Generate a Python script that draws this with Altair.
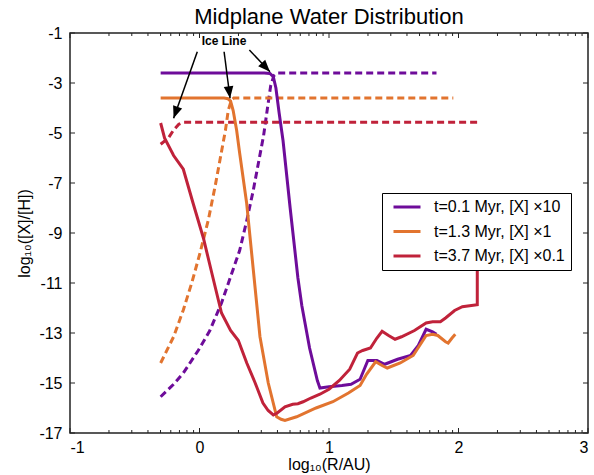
import math
import altair as alt
import pandas as pd

# ---------------- data ----------------
series_names = ["t=0.1 Myr, [X] \u00d710", "t=1.3 Myr, [X] \u00d71", "t=3.7 Myr, [X] \u00d70.1"]
series_colors = ["#6e0c9a", "#e2742f", "#c0223a"]

# t = 0.1 Myr, ice (solid)
t01_x = [-0.3, 0.5, 0.544, 0.57, 0.59, 0.615, 0.645, 0.7, 0.76, 0.79, 0.85, 0.91, 0.93, 1.0, 1.1, 1.17,
         1.24, 1.3, 1.37, 1.43, 1.53, 1.63, 1.69, 1.75, 1.8, 1.83]
t01_y = [-2.6, -2.6, -2.62, -2.75, -3.2, -4.2, -5.3, -8.0, -10.8, -11.9, -13.6, -14.9, -15.2, -15.15, -15.1, -15.05,
         -14.85, -14.1, -14.1, -14.25, -14.05, -13.9, -13.5, -12.85, -12.95, -13.05]
# t = 0.1 Myr, vapour (dashed)
t01d_x = [-0.3, -0.2, -0.125, -0.01, 0.08, 0.17, 0.25, 0.31, 0.365, 0.415, 0.455, 0.495, 0.525, 0.55, 0.575, 0.6, 1.83]
t01d_y = [-15.55, -15.05, -14.6, -13.7, -12.9, -11.8, -10.6, -9.7, -8.5, -7.3, -6.2, -5.1, -4.0, -3.1, -2.7, -2.6, -2.6]

# t = 1.3 Myr, ice (solid)
t13_x = [-0.3, 0.19, 0.22, 0.24, 0.26, 0.287, 0.31, 0.364, 0.416, 0.467, 0.531, 0.596, 0.63, 0.66, 0.75, 0.9, 1.03,
         1.15, 1.24, 1.29, 1.36, 1.41, 1.45, 1.55, 1.65, 1.7, 1.75, 1.8, 1.84, 1.9, 1.92, 1.95, 1.975]
t13_y = [-3.6, -3.6, -3.63, -3.72, -4.1, -4.9, -5.8, -7.8, -10.5, -13.15, -15.0, -16.35, -16.45, -16.5, -16.35, -16.0, -15.75,
         -15.4, -15.1, -14.65, -14.15, -14.3, -14.4, -14.2, -13.9, -13.5, -13.1, -13.05, -13.1, -13.35, -13.4, -13.2, -13.05]
# t = 1.3 Myr, vapour (dashed)
t13d_x = [-0.3, -0.2, -0.125, -0.06, 0.004, 0.068, 0.12, 0.158, 0.2, 0.222, 0.245, 0.265, 1.96]
t13d_y = [-14.2, -13.15, -12.08, -11.0, -9.8, -8.48, -7.15, -6.08, -4.9, -4.1, -3.7, -3.6, -3.6]

# t = 3.7 Myr, ice (solid)
t37_x = [-0.3, -0.27, -0.2, -0.125, -0.05, 0.03, 0.095, 0.17, 0.24, 0.3, 0.365, 0.43, 0.49, 0.53, 0.57, 0.6, 0.66,
         0.72, 0.76, 0.8, 0.86, 0.93, 1.0, 1.08, 1.16, 1.22, 1.26, 1.32, 1.37, 1.41, 1.46, 1.51, 1.56, 1.66, 1.75,
         1.8, 1.86, 1.9, 1.97, 2.03, 2.1, 2.145, 2.145]
t37_y = [-4.6, -5.2, -5.9, -6.45, -7.8, -9.2, -10.6, -12.2, -12.9, -13.3, -14.2, -15.0, -15.8, -16.1, -16.28, -16.2, -15.95,
         -15.85, -15.83, -15.75, -15.6, -15.45, -15.25, -14.9, -14.45, -13.8, -13.7, -13.6, -13.2, -12.93, -13.1, -13.25, -13.15, -12.9, -12.6,
         -12.55, -12.55, -12.4, -12.1, -11.95, -11.9, -11.87, -9.0]
# t = 3.7 Myr, vapour (dashed)
t37d_x = [-0.3, -0.24, -0.2, -0.16, -0.125, 2.15]
t37d_y = [-5.45, -5.2, -4.88, -4.65, -4.57, -4.57]

# "Ice Line" annotation: text position and arrows (start -> tip)
note_text = "Ice Line"
note_x, note_y = 0.189, -1.32
arrow_x0 = [-0.017, 0.19, 0.385]
arrow_y0 = [-1.75, -1.75, -1.68]
arrow_x1 = [-0.2, 0.236, 0.544]
arrow_y1 = [-4.41, -3.61, -2.55]

x_ticks = [-1, 0, 1, 2, 3]
y_ticks = [-1, -3, -5, -7, -9, -11, -13, -15, -17]

# ---------------- layout ----------------
W, H = 518, 400
X_DOM, Y_DOM = [-1, 3], [-17, -1]
PX_X = W / (X_DOM[1] - X_DOM[0])
PX_Y = H / (Y_DOM[1] - Y_DOM[0])


def frame(xs, ys, name):
    return pd.DataFrame({"x": xs, "y": ys, "series": name, "idx": range(len(xs))})


solid = pd.concat([frame(t01_x, t01_y, series_names[0]),
                   frame(t13_x, t13_y, series_names[1]),
                   frame(t37_x, t37_y, series_names[2])])
dashed = pd.concat([frame(t01d_x, t01d_y, series_names[0]),
                    frame(t13d_x, t13d_y, series_names[1]),
                    frame(t37d_x, t37d_y, series_names[2])])

arrows = pd.DataFrame({"x0": arrow_x0, "y0": arrow_y0, "x1": arrow_x1, "y1": arrow_y1})
arrows["ang"] = [
    (math.degrees(math.atan2((b - a) * PX_X, (d - c) * PX_Y)) + 360) % 360
    for a, b, c, d in zip(arrow_x0, arrow_x1, arrow_y0, arrow_y1)
]

minor = [n + math.log10(k) for n in range(-1, 3) for k in range(2, 10)]
xt_minor = pd.DataFrame({"tx": minor})
xt_major = pd.DataFrame({"tx": x_ticks})
yt_major = pd.DataFrame({"ty": y_ticks})

xs = alt.Scale(domain=X_DOM, nice=False, zero=False)
ys = alt.Scale(domain=Y_DOM, nice=False, zero=False)
FONT = "Liberation Sans"

x_axis = alt.Axis(values=x_ticks, labelExpr="'' + datum.value", title="log\u2081\u2080(R/AU)",
                  grid=False, domain=False, ticks=False, labelPadding=6, labelFontSize=16,
                  labelFont=FONT, labelColor="black", titleFont=FONT, titleFontSize=16,
                  titleFontWeight="normal", titleColor="black", titleX=W / 2, titleY=31,
                  titleBaseline="middle")
y_axis = alt.Axis(values=y_ticks, labelExpr="'' + datum.value", title="log\u2081\u2080([X]/[H])",
                  grid=False, domain=False, ticks=False, labelPadding=8, labelFontSize=16,
                  labelFont=FONT, labelColor="black", titleFont=FONT, titleFontSize=16,
                  titleFontWeight="normal", titleColor="black", titleX=-46, titleY=H / 2,
                  titleAngle=270, titleBaseline="middle", titleAlign="center")


def X(f):
    return alt.X(f, type="quantitative", scale=xs, axis=x_axis)


def Y(f):
    return alt.Y(f, type="quantitative", scale=ys, axis=y_axis)


color_scale = alt.Scale(domain=series_names, range=series_colors)
legend = alt.Legend(orient="none", legendX=312, legendY=160, title=None,
                    symbolType="stroke", symbolStrokeWidth=3, symbolSize=729, symbolOffset=4,
                    labelFont=FONT, labelFontSize=16, labelColor="black",
                    labelLimit=300, fillColor="white", strokeColor="black",
                    padding=6, rowPadding=8.5, labelOffset=12, clipHeight=16)
color_enc = alt.Color("series:N", scale=color_scale, sort=series_names, legend=legend)

dashed_layer = alt.Chart(dashed).mark_line(strokeWidth=3, strokeDash=[7, 4], clip=True).encode(
    x=X("x"), y=Y("y"), color=color_enc, detail="series:N", order="idx:Q")

solid_layer = alt.Chart(solid).mark_line(strokeWidth=3, clip=True).encode(
    x=X("x"), y=Y("y"), color=color_enc, detail="series:N", order="idx:Q")

shafts = alt.Chart(arrows).mark_rule(color="black", strokeWidth=1.5).encode(
    x=X("x0"), y=Y("y0"), x2="x1", y2="y1")

heads = alt.Chart(arrows).mark_point(shape="M0,0L-0.8,2L0.8,2Z", filled=True, color="black",
                                     opacity=1, size=144).encode(
    x=X("x1"), y=Y("y1"), angle=alt.Angle("ang:Q", scale=None))

note = alt.Chart(pd.DataFrame({"x": [note_x], "y": [note_y], "t": [note_text]})).mark_text(
    font=FONT, fontSize=12, fontWeight="bold", color="black", align="center", baseline="middle").encode(
    x=X("x"), y=Y("y"), text="t:N")

tick_style = dict(color="#222", strokeWidth=1)
minor_bot = alt.Chart(xt_minor).mark_rule(**tick_style).encode(x=X("tx"), y=alt.value(H), y2=alt.value(H - 3))
minor_top = alt.Chart(xt_minor).mark_rule(**tick_style).encode(x=X("tx"), y=alt.value(0), y2=alt.value(3))
major_bot = alt.Chart(xt_major).mark_rule(**tick_style).encode(x=X("tx"), y=alt.value(H), y2=alt.value(H - 5))
major_top = alt.Chart(xt_major).mark_rule(**tick_style).encode(x=X("tx"), y=alt.value(0), y2=alt.value(5))
ytick_l = alt.Chart(yt_major).mark_rule(**tick_style).encode(y=Y("ty"), x=alt.value(0), x2=alt.value(5))
ytick_r = alt.Chart(yt_major).mark_rule(**tick_style).encode(y=Y("ty"), x=alt.value(W), x2=alt.value(W - 5))

chart = alt.layer(
    minor_bot, minor_top, major_bot, major_top, ytick_l, ytick_r,
    dashed_layer, solid_layer, shafts, heads, note
).properties(
    width=W, height=H,
    title=alt.Title("Midplane Water Distribution", font=FONT, fontSize=22, fontWeight="normal",
                    color="black", anchor="middle", offset=-4),
    autosize=alt.AutoSizeParams(type="none"),
    padding={"left": 70, "top": 33, "right": 6, "bottom": 42},
    background="white",
).configure_view(stroke="#222", strokeWidth=1.5)

chart.save("out.html", embed_options={"renderer": "svg", "actions": False})
